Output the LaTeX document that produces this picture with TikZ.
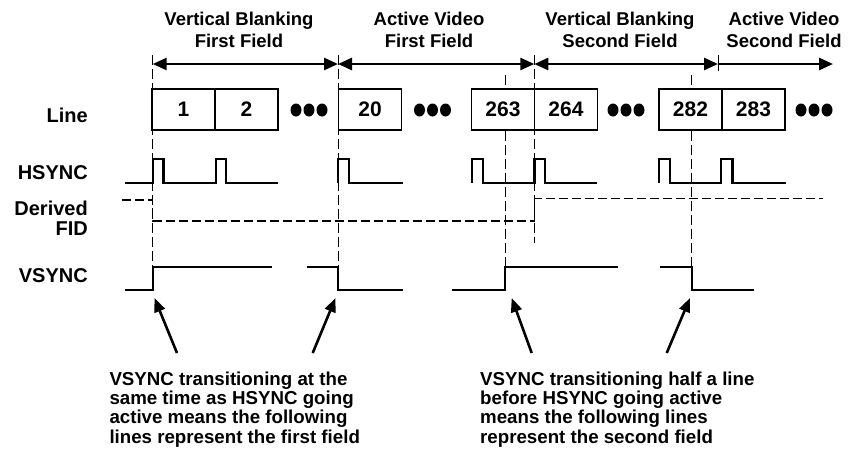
\documentclass[tikz,border=0pt]{standalone}
\usepackage{fontspec}
\setmainfont{Liberation Sans}
\usetikzlibrary{arrows.meta,positioning}

\newcommand\tightlines{\setlength{\lineskiplimit}{-20pt}}

\tikzset{
    wave/.style={line width=2.4pt, line join=miter},
    guide/.style={line width=0.9pt, dash pattern=on 10pt off 4pt},
    fid/.style={line width=1.2pt, dash pattern=on 9pt off 4pt},
    linebox/.style={draw, line width=1.6pt, fill=white, minimum width=63pt, minimum height=41pt,
        inner sep=0pt, outer sep=0pt, font=\fontsize{21}{21}\selectfont\bfseries},
    fieldlabel/.style={anchor=north, align=center, inner sep=0pt, font=\fontsize{18.5}{21.5}\selectfont\bfseries},
    siglabel/.style={anchor=base east, align=right, inner sep=0pt, font=\fontsize{20}{20}\selectfont\bfseries},
    note/.style={anchor=north west, align=left, inner sep=0pt,
        font=\fontsize{18.7}{19.3}\selectfont\bfseries\tightlines},
    span/.style={line width=2.6pt, {Triangle[length=14pt,width=12pt]}-{Triangle[length=14pt,width=12pt]}},
    spanend/.style={line width=2.6pt, -{Triangle[length=14pt,width=12pt]}},
    pointer/.style={line width=2.6pt, -{Triangle[length=14pt,width=11pt]}},
}

\begin{document}
\begin{tikzpicture}[x=1pt, y=-1pt]
    \useasboundingbox (0,0) rectangle (849,451);

    % Field labels and spans
    \node[fieldlabel] (vb1) at (239,12) {Vertical Blanking\\First Field};
    \node[fieldlabel] (av1) at (429,12) {Active Video\\First Field};
    \node[fieldlabel] (vb2) at (620,12) {Vertical Blanking\\Second Field};
    \node[fieldlabel] (av2) at (784,12) {Active Video\\Second Field};

    \foreach \n/\x in {0/152.7, 1/338, 2/534.3, 3/718, 4/833} \coordinate (f\n) at (\x,64);
    \draw[span] (f0) -- (f1);
    \draw[span] (f1) -- (f2);
    \draw[span] (f2) -- (f3);
    \draw[spanend] (f3) -- (f4);

    % Guide lines
    \draw[guide] (152.7,55) -- (152.7,267);
    \draw[guide] (338,55) -- (338,267);
    \draw[guide] (505,75) -- (505,267);
    \draw[guide] (534.3,55) -- (534.3,243);
    \draw[guide] (691.7,75) -- (691.7,267);
    \draw[line width=0.9pt] (718,55) -- (718,71);

    % Signal names
    \node[siglabel] (lline) at (88,122.3) {Line};
    \node[siglabel] (lhsync) at (88,179.3) {HSYNC};
    \node[siglabel, anchor=north east] (lfid) at (88,201) {Derived\\FID};
    \node[siglabel] (lvsync) at (88,282.7) {VSYNC};

    % Line boxes
    \node[linebox] (line1) at (183.5,109.5) {1};
    \node[linebox, right=0pt of line1] (line2) {2};
    \node[linebox] (line20) at (370,109.5) {20};
    \node[linebox] (line263) at (503,109.5) {263};
    \node[linebox, right=0pt of line263] (line264) {264};
    \node[linebox] (line282) at (690.5,109.5) {282};
    \node[linebox, right=0pt of line282] (line283) {283};

    % Dots between lines
    \foreach \c in {309, 432.5, 626, 814}
        \foreach \d in {-13,0,13}
            \fill ({\c+\d},110) ellipse [x radius=5.5, y radius=6.5];

    % HSYNC
    \draw[wave] (125,183) -- (152.7,183) |- (163.3,159) |- (215.7,183) |- (225.7,159) |- (278.3,183);
    \draw[wave] (338,183) |- (349,159) |- (402.7,183);
    \draw[wave] (472,183) |- (483,159) |- (534.3,183) |- (545,159) |- (596.7,183);
    \draw[wave] (659,183) |- (670,159) |- (721,183) |- (732.3,159) |- (785.7,183);

    % Derived FID
    \draw[fid] (121.7,200) -- (152.7,200) |- (534.3,221) |- (823.3,198.5);

    % VSYNC
    \draw[wave] (125,290) -- (152.7,290) |- (271.7,267);
    \draw[wave] (306.7,267) -- (338,267) |- (402.7,290);
    \draw[wave] (451.7,290) -- (505,290) |- (617.7,267);
    \draw[wave] (660,267) -- (691.7,267) |- (754.3,290);

    % Notes
    \node[note] (note1) at (109.3,371.5) {VSYNC transitioning at the\\same time as HSYNC going\\active means the following\\lines represent the first field};
    \node[note] (note2) at (480,371.5) {VSYNC transitioning half a line\\before HSYNC going active\\means the following lines\\represent the second field};

    \coordinate (s1) at (177,353);     \coordinate (e1) at (154.5,298);
    \coordinate (s2) at (312.7,353);   \coordinate (e2) at (335.5,298);
    \coordinate (s3) at (531.7,353);   \coordinate (e3) at (511.7,298);
    \coordinate (s4) at (666.7,353);   \coordinate (e4) at (690,298);
    \foreach \i in {1,...,4} \draw[pointer] (s\i) -- (e\i);

\end{tikzpicture}
\end{document}
